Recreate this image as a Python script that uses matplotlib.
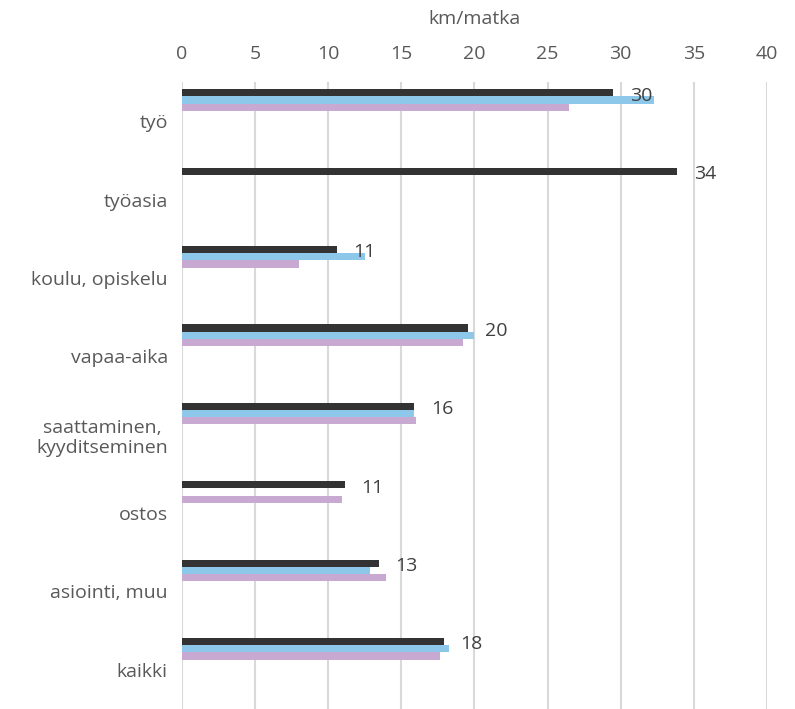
import matplotlib
matplotlib.use("Agg")
import matplotlib.pyplot as plt
import numpy as np

plt.rcParams['font.family'] = ['Open Sans', 'DejaVu Sans']

kategoriat = ["työ", "työasia", "koulu, opiskelu", "vapaa-aika",
              "saattaminen,\nkyyditseminen", "ostos", "asiointi, muu", "kaikki"]
# three series (dark, blue, purple); None = no bar
sarja1 = [29.5, 33.85, 10.6, 19.6, 15.9, 11.15, 13.45, 17.9]
sarja2 = [32.25, None, 12.55, 20.0, 15.85, None, 12.9, 18.25]
sarja3 = [26.5, None, 8.05, 19.25, 16.0, 10.95, 13.95, 17.65]
otsikko = "km/matka"
xticks = [0, 5, 10, 15, 20, 25, 30, 35, 40]

varit = ["#333333", "#8dc8ea", "#c7a9d2"]
offsets = [-0.361, -0.269, -0.177]
h = 0.092

fig = plt.figure(figsize=(7.95, 7.09), dpi=100)
ax = fig.add_axes([181.7 / 795, 0, (767 - 181.7) / 795, 1 - 82 / 709])

y = np.arange(len(kategoriat))
for s, c, off in zip([sarja1, sarja2, sarja3], varit, offsets):
    vals = [np.nan if v is None else v for v in s]
    ax.barh(y + off, vals, height=h, color=c, zorder=3)

# data labels for the first series
for i, v in enumerate(sarja1):
    ax.annotate(f"{v:.0f}", xy=(v, y[i] + offsets[0]), xytext=(12, -2),
                textcoords="offset points", va="center", ha="left",
                fontsize=14, color="#404040", zorder=4)

ax.set_ylim(len(kategoriat) - 0.5, -0.5)
ax.set_xlim(0, 40)
ax.set_xticks(xticks)
ax.set_yticks(y)
ax.set_yticklabels(kategoriat, ha="right", multialignment="center")
ax.xaxis.tick_top()
ax.xaxis.set_label_position("top")
ax.set_xlabel(otsikko, fontsize=14, color="#595959", labelpad=15)
ax.tick_params(axis="x", length=0, pad=13.5, labelsize=14, labelcolor="#595959")
ax.tick_params(axis="y", length=0, pad=10, labelsize=14, labelcolor="#595959")
ax.grid(axis="x", color="#d9d9d9", linewidth=1.5, zorder=0)
for sp in ax.spines.values():
    sp.set_visible(False)

fig.savefig("out.png", dpi=100)
